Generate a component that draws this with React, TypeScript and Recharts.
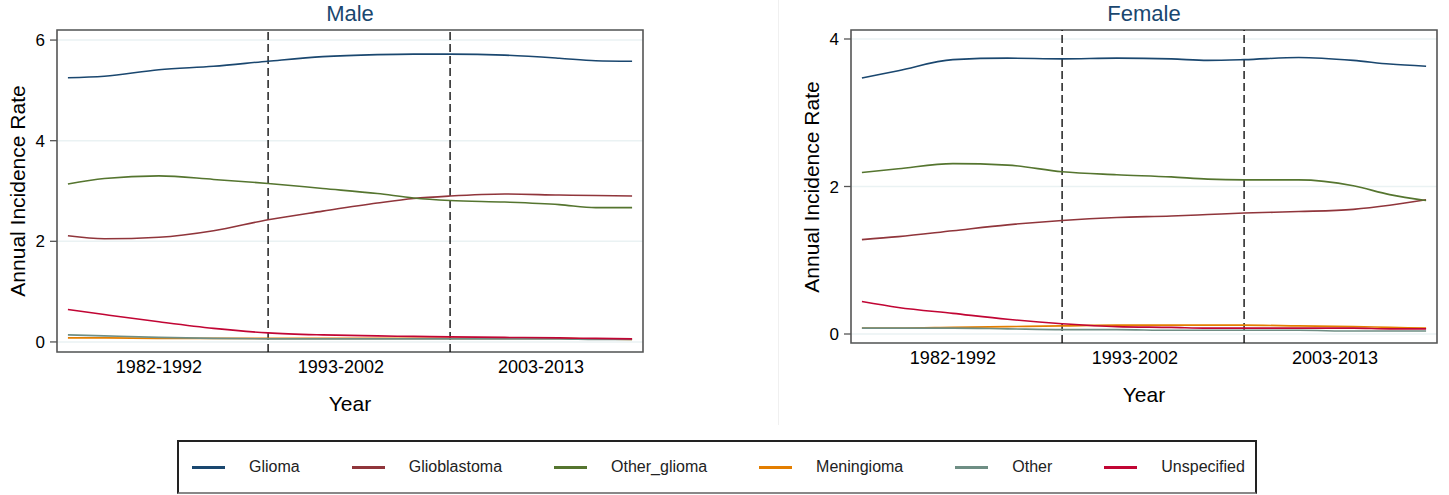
import React from 'react';
import { LineChart, Line, XAxis, YAxis, CartesianGrid, ReferenceLine, ReferenceArea } from 'recharts';

// sample years
const YEARS = [1982, 1984, 1987, 1990, 1993, 1996, 1999, 2001, 2003, 2006, 2009, 2011, 2013];
const PERIOD_TICKS = [1987, 1997, 2008];
const PERIOD_LABELS = ['1982-1992', '1993-2002', '2003-2013'];
const PERIOD_BREAKS = [1993, 2003];
const X_DOMAIN = [1981.4, 2013.6];

const SERIES = ['Glioma', 'Glioblastoma', 'Other_glioma', 'Meningioma', 'Other', 'Unspecified'];
const COLORS = ['#1a476f', '#90353b', '#55752f', '#e37e00', '#6e8e84', '#c10534'];

// Male
const MALE_GLIOMA = [5.25, 5.28, 5.41, 5.48, 5.58, 5.67, 5.71, 5.72, 5.72, 5.70, 5.64, 5.59, 5.58];
const MALE_GLIOBLASTOMA = [2.11, 2.05, 2.08, 2.21, 2.43, 2.60, 2.76, 2.85, 2.90, 2.94, 2.92, 2.91, 2.90];
const MALE_OTHER_GLIOMA = [3.14, 3.25, 3.30, 3.23, 3.15, 3.05, 2.95, 2.86, 2.81, 2.78, 2.73, 2.67, 2.67];
const MALE_MENINGIOMA = [0.08, 0.08, 0.07, 0.07, 0.07, 0.07, 0.07, 0.07, 0.07, 0.07, 0.07, 0.06, 0.05];
const MALE_OTHER = [0.14, 0.12, 0.09, 0.07, 0.06, 0.06, 0.06, 0.06, 0.06, 0.06, 0.06, 0.05, 0.05];
const MALE_UNSPECIFIED = [0.645, 0.545, 0.40, 0.27, 0.18, 0.14, 0.12, 0.11, 0.10, 0.09, 0.08, 0.07, 0.06];

// Female
const FEMALE_GLIOMA = [3.47, 3.57, 3.72, 3.74, 3.73, 3.74, 3.73, 3.71, 3.72, 3.75, 3.71, 3.66, 3.63];
const FEMALE_GLIOBLASTOMA = [1.28, 1.32, 1.40, 1.48, 1.54, 1.58, 1.60, 1.62, 1.64, 1.66, 1.69, 1.745, 1.82];
const FEMALE_OTHER_GLIOMA = [2.19, 2.24, 2.31, 2.29, 2.20, 2.16, 2.13, 2.10, 2.09, 2.09, 2.01, 1.89, 1.81];
const FEMALE_MENINGIOMA = [0.08, 0.08, 0.09, 0.10, 0.11, 0.12, 0.12, 0.12, 0.12, 0.11, 0.10, 0.09, 0.08];
const FEMALE_OTHER = [0.08, 0.08, 0.08, 0.07, 0.06, 0.06, 0.05, 0.05, 0.05, 0.05, 0.04, 0.04, 0.04];
const FEMALE_UNSPECIFIED = [0.44, 0.36, 0.28, 0.20, 0.14, 0.10, 0.09, 0.08, 0.08, 0.08, 0.08, 0.07, 0.07];

const FONT = '"Liberation Sans", Arial, sans-serif';

const buildRows = (values: number[][]) =>
  YEARS.map((year, i) => {
    const row: any = { year };
    SERIES.forEach((s, j) => {
      row[s] = values[j][i];
    });
    return row;
  });

const maleRows = buildRows([MALE_GLIOMA, MALE_GLIOBLASTOMA, MALE_OTHER_GLIOMA, MALE_MENINGIOMA, MALE_OTHER, MALE_UNSPECIFIED]);
const femaleRows = buildRows([FEMALE_GLIOMA, FEMALE_GLIOBLASTOMA, FEMALE_OTHER_GLIOMA, FEMALE_MENINGIOMA, FEMALE_OTHER, FEMALE_UNSPECIFIED]);

const periodLabel = (v: number) => PERIOD_LABELS[PERIOD_TICKS.indexOf(v)] ?? '';

type PanelProps = {
  title: string;
  rows: any[];
  yDomain: number[];
  yTicks: number[];
  left: number;
  width: number;
  margin: { top: number; right: number; bottom: number; left: number };
};

const Panel: React.FC<PanelProps> = ({ title, rows, yDomain, yTicks, left, width, margin }) => {
  const plotLeft = margin.left + 40;
  const plotRight = width - margin.right;
  const center = (plotLeft + plotRight) / 2;
  const plotBottom = 430 - margin.bottom - 30;
  return (
    <div style={{ position: 'absolute', left, top: 0, width, height: 430 }}>
      <div style={{ position: 'absolute', left: center, top: 1, transform: 'translateX(-50%)', fontSize: 22, color: '#1a476f', whiteSpace: 'nowrap' }}>
        {title}
      </div>
      <div
        style={{
          position: 'absolute',
          left: plotLeft - 39,
          top: (margin.top + plotBottom) / 2,
          transform: 'translate(-50%, -50%) rotate(-90deg)',
          fontSize: 21,
          whiteSpace: 'nowrap',
          color: '#000',
        }}
      >
        Annual Incidence Rate
      </div>
      <div style={{ position: 'absolute', left: center, top: plotBottom + 40, transform: 'translateX(-50%)', fontSize: 21, color: '#000' }}>
        Year
      </div>
      <LineChart width={width} height={430} data={rows} margin={margin}>
        <CartesianGrid horizontal vertical={false} stroke="#eaf2f3" strokeWidth={1.5} />
        <XAxis
          dataKey="year"
          type="number"
          domain={X_DOMAIN}
          allowDataOverflow
          ticks={PERIOD_TICKS}
          tickFormatter={periodLabel}
          axisLine={false}
          tickLine={false}
          tickSize={6}
          tickMargin={2}
          height={30}
          tick={{ fontSize: 18, fill: '#000', fontFamily: FONT }}
        />
        <YAxis
          type="number"
          domain={yDomain}
          allowDataOverflow
          ticks={yTicks}
          axisLine={false}
          tickLine={{ stroke: '#555', strokeWidth: 1.3 }}
          tickSize={7}
          tickMargin={5}
          width={40}
          tick={{ fontSize: 17, fill: '#000', fontFamily: FONT }}
        />
        {PERIOD_BREAKS.map((x) => (
          <ReferenceLine key={x} x={x} stroke="#111" strokeWidth={1.4} strokeDasharray="8 4" />
        ))}
        {SERIES.map((s, i) => (
          <Line
            key={s}
            type="monotone"
            dataKey={s}
            stroke={COLORS[i]}
            strokeWidth={1.6}
            dot={false}
            activeDot={false}
            isAnimationActive={false}
          />
        ))}
        <ReferenceArea
          x1={X_DOMAIN[0]}
          x2={X_DOMAIN[1]}
          y1={yDomain[0]}
          y2={yDomain[1]}
          fill="none"
          fillOpacity={0}
          stroke="#555"
          strokeWidth={1.6}
          ifOverflow="visible"
        />
      </LineChart>
    </div>
  );
};

const LegendBox: React.FC = () => (
  <div
    style={{
      position: 'absolute',
      left: 177,
      top: 440,
      width: 1063,
      height: 50,
      border: '2px solid #222',
      borderBottomColor: '#888',
      display: 'flex',
      alignItems: 'center',
      paddingLeft: 13,
      boxSizing: 'content-box',
      gap: 52,
    }}
  >
    {SERIES.map((s, i) => (
      <div key={s} style={{ display: 'flex', alignItems: 'center' }}>
        <div style={{ width: 33, height: 3, background: COLORS[i], marginRight: 24 }} />
        <span style={{ fontSize: 16, color: '#222' }}>{s}</span>
      </div>
    ))}
  </div>
);

export default function App() {
  return (
    <div style={{ position: 'absolute', left: 0, top: 0, width: 1449, height: 495, background: '#fff', fontFamily: FONT, overflow: 'hidden' }}>
      <Panel
        title="Male"
        rows={maleRows}
        yDomain={[-0.2, 6.2]}
        yTicks={[0, 2, 4, 6]}
        left={0}
        width={780}
        margin={{ top: 30, right: 137, bottom: 48, left: 17 }}
      />
      <div style={{ position: 'absolute', left: 778, top: 0, width: 1, height: 425, background: '#f0f0f0' }} />
      <Panel
        title="Female"
        rows={femaleRows}
        yDomain={[-0.122, 4.122]}
        yTicks={[0, 2, 4]}
        left={780}
        width={669}
        margin={{ top: 30, right: 12, bottom: 57, left: 31 }}
      />
      <LegendBox />
    </div>
  );
}
